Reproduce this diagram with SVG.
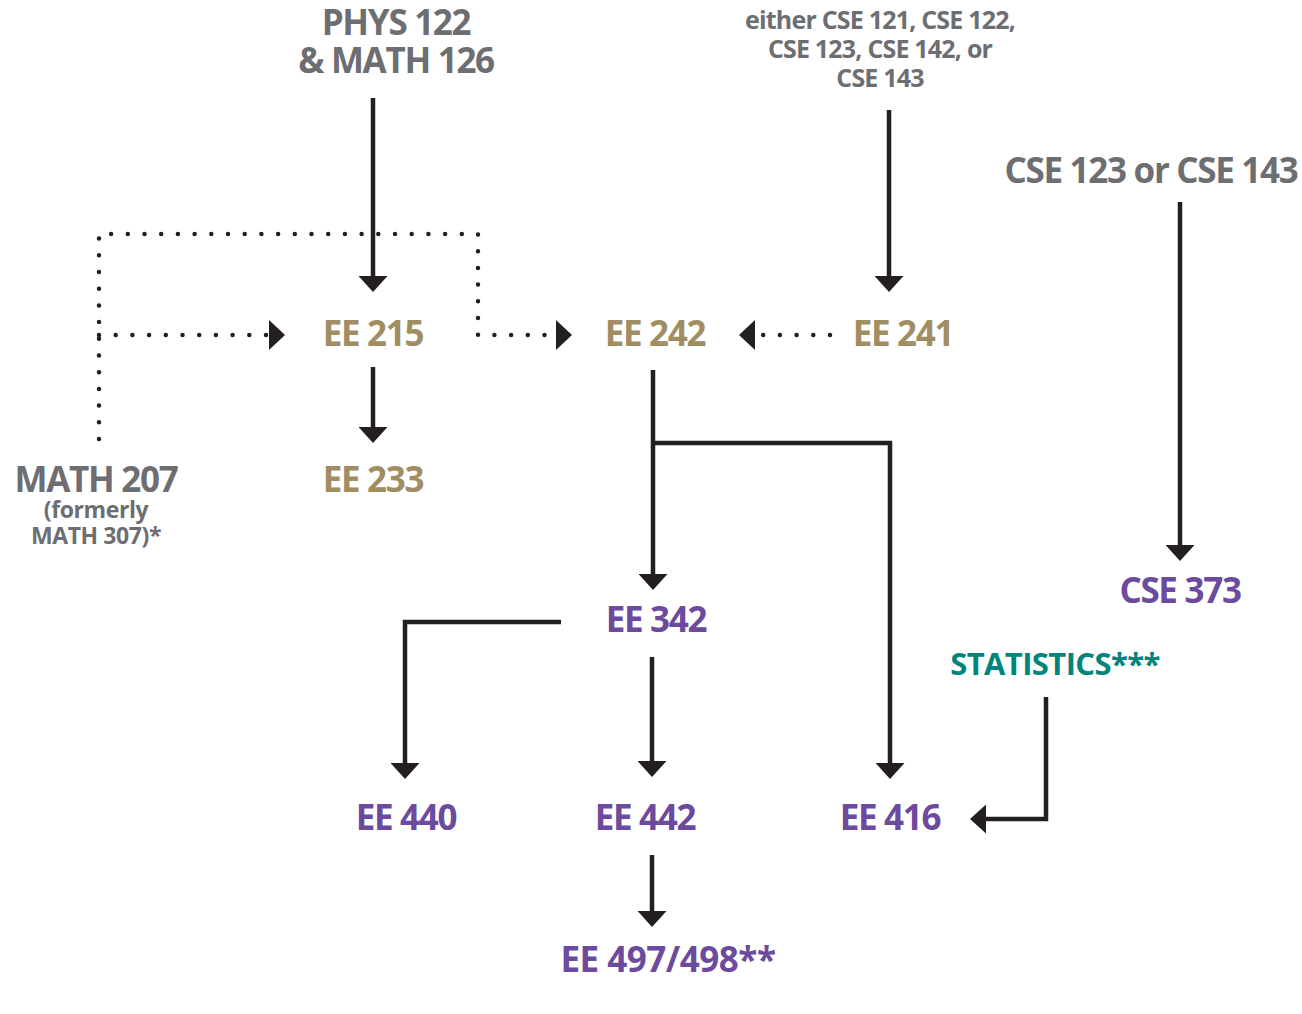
<svg xmlns="http://www.w3.org/2000/svg" width="1302" height="1014" viewBox="0 0 1302 1014">
<style>
text{font-family:"Open Sans","Noto Sans",sans-serif;font-weight:700;text-anchor:middle}
.big{font-size:35px;letter-spacing:-1.3px}
.mid{font-size:25px;letter-spacing:-0.8px}
.sm{font-size:23px;letter-spacing:-0.4px}
.stat{font-size:31px;letter-spacing:-0.6px}
.gray{fill:#6d6e71}
.gold{fill:#a08d62}
.purple{fill:#6c4a9e}
.teal{fill:#00857c}
.ln{fill:none;stroke:#231f20;stroke-width:4.5;stroke-linejoin:miter}
.solid{marker-end:url(#arrow)}
.dot{stroke-dasharray:0 16.7;stroke-linecap:round;marker-end:url(#darrow)}
</style>
<defs>
<marker id="arrow" markerUnits="userSpaceOnUse" markerWidth="16" markerHeight="29" refX="4" refY="14.5" orient="auto" viewBox="0 0 16 29"><path d="M0,0 L16,14.5 L0,29 z" fill="#231f20"/></marker>
<marker id="darrow" markerUnits="userSpaceOnUse" markerWidth="16" markerHeight="30" refX="0" refY="15" orient="auto" viewBox="0 0 16 30"><path d="M0,0 L16,15 L0,30 z" fill="#231f20"/></marker>
</defs>
<g id="connectors">
<path class="ln solid" d="M373,98 V280"/>
<path class="ln solid" d="M889,110 V280"/>
<path class="ln solid" d="M1180,202 V549"/>
<path class="ln solid" d="M373,367 V431"/>
<path class="ln solid" d="M653,370 V578"/>
<path class="ln solid" d="M653,443 H890 V767"/>
<path class="ln solid" d="M561,622 H405 V767"/>
<path class="ln solid" d="M652,657 V765"/>
<path class="ln solid" d="M1046,697 V819 H982"/>
<path class="ln solid" d="M652,855 V915"/>
<path class="ln dot" d="M99,439 V234 H478 V335 H556"/>
<path class="ln dot" d="M99,335 H269"/>
<path class="ln dot" d="M830,335 H755"/>
</g>
<g id="phys"><text class="big gray" x="396" y="35">PHYS 122</text><text class="big gray" x="396" y="73">&amp; MATH 126</text></g>
<g id="cse-intro"><text class="mid gray" x="880" y="29">either CSE 121, CSE 122,</text><text class="mid gray" x="880" y="58">CSE 123, CSE 142, or</text><text class="mid gray" x="880" y="87">CSE 143</text></g>
<g id="cse123"><text class="big gray" x="1151" y="183">CSE 123 or CSE 143</text></g>
<g id="ee215"><text class="big gold" x="373" y="346">EE 215</text></g>
<g id="ee242"><text class="big gold" x="655" y="346">EE 242</text></g>
<g id="ee241"><text class="big gold" x="903" y="346">EE 241</text></g>
<g id="ee233"><text class="big gold" x="373" y="492">EE 233</text></g>
<g id="math207"><text class="big gray" x="96" y="492">MATH 207</text><text class="sm gray" x="96" y="518">(formerly</text><text class="sm gray" x="96" y="544">MATH 307)*</text></g>
<g id="cse373"><text class="big purple" x="1180" y="603">CSE 373</text></g>
<g id="ee342"><text class="big purple" x="656" y="632">EE 342</text></g>
<g id="statistics"><text class="stat teal" x="1055" y="675">STATISTICS***</text></g>
<g id="ee440"><text class="big purple" x="406" y="830">EE 440</text></g>
<g id="ee442"><text class="big purple" x="645" y="830">EE 442</text></g>
<g id="ee416"><text class="big purple" x="890" y="830">EE 416</text></g>
<g id="ee497"><text class="big purple" x="668" y="972" style="letter-spacing:-0.5px">EE 497/498**</text></g>
</svg>
